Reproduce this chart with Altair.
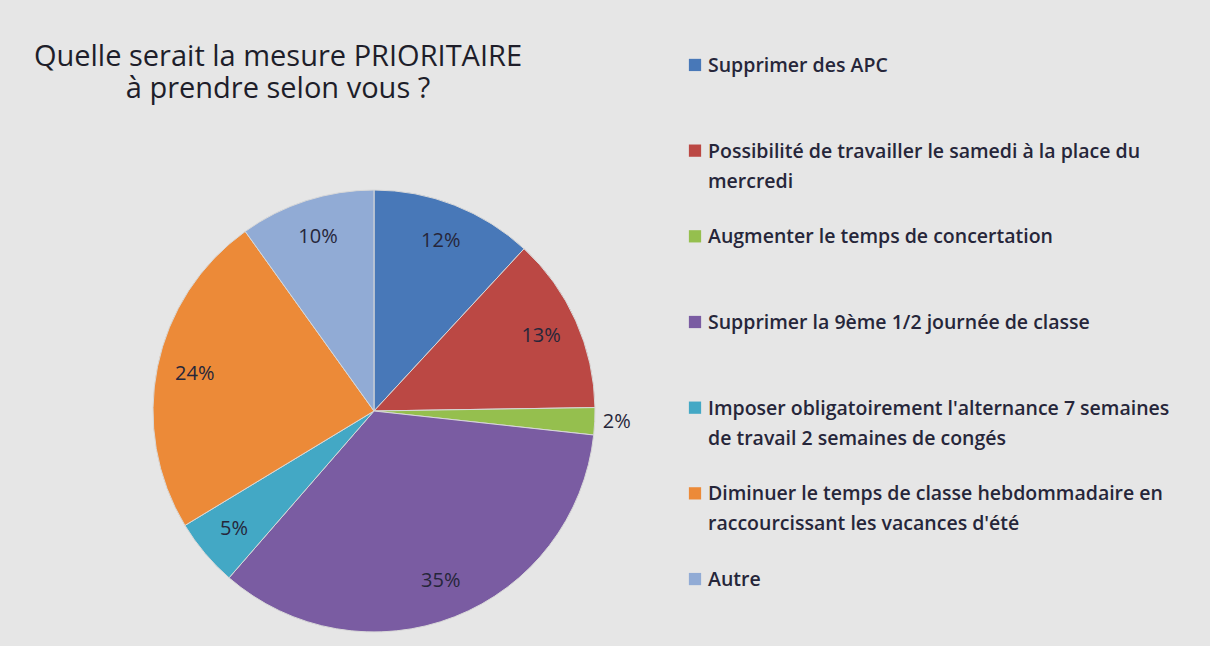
import altair as alt
import pandas as pd

# ---- data ----
categories = [
    "Supprimer des APC",
    "Possibilité de travailler le samedi à la place du mercredi",
    "Augmenter le temps de concertation",
    "Supprimer la 9ème 1/2 journée de classe",
    "Imposer obligatoirement l'alternance 7 semaines de travail 2 semaines de congés",
    "Diminuer le temps de classe hebdommadaire en raccourcissant les vacances d'été",
    "Autre",
]
legend_lines = [
    ["Supprimer des APC"],
    ["Possibilité de travailler le samedi à la place du", "mercredi"],
    ["Augmenter le temps de concertation"],
    ["Supprimer la 9ème 1/2 journée de classe"],
    ["Imposer obligatoirement l'alternance 7 semaines", "de travail 2 semaines de congés"],
    ["Diminuer le temps de classe hebdommadaire en", "raccourcissant les vacances d'été"],
    ["Autre"],
]
percentages = [12, 13, 2, 35, 5, 24, 10]
colors = ["#4878b8", "#bb4844", "#95bf4e", "#7a5ca2", "#43a8c5", "#ec8a38", "#91abd5"]
title_lines = ["Quelle serait la mesure PRIORITAIRE", "à prendre selon vous ?"]

df = pd.DataFrame({
    "mesure": categories,
    "pct": percentages,
    "ordre": list(range(len(categories))),
    "etiquette": [f"{p}%" for p in percentages],
    "legende": ["\n".join(l) for l in legend_lines],
})
title_df = pd.DataFrame({"titre": ["\n".join(title_lines)]})

FONT = "Open Sans"
TEXT_COL = "#26263a"

color_enc = alt.Color("mesure:N", scale=alt.Scale(domain=categories, range=colors), legend=None)

# ---- title block (real text) ----
header = alt.Chart(title_df).mark_text(
    align="center", baseline="alphabetic", lineBreak="\n", lineHeight=32,
    font=FONT, fontSize=29, color="#1e1e2a",
).encode(text="titre:N", x=alt.value(210), y=alt.value(24)).properties(width=612, height=127)

# ---- pie ----
base = alt.Chart(df).encode(
    theta=alt.Theta("pct:Q", stack=True),
    order=alt.Order("ordre:Q"),
)
arcs = base.mark_arc(outerRadius=221, stroke="#d8d8d8", strokeWidth=1).encode(color=color_enc)
inner = base.transform_calculate(
    txt="datum.pct >= 3 ? datum.etiquette : ''"
).mark_text(radius=183, font=FONT, fontSize=20, color=TEXT_COL).encode(text="txt:N")
outer = base.transform_calculate(
    txt="datum.pct < 3 ? datum.etiquette : ''"
).mark_text(radius=243, font=FONT, fontSize=20, color=TEXT_COL).encode(text="txt:N")
pie = alt.layer(arcs, inner, outer).properties(width=612, height=460)

left = alt.vconcat(header, pie, spacing=0)

# ---- legend ----
leg_base = alt.Chart(df).encode(
    y=alt.Y("mesure:N", sort=categories, axis=None,
            scale=alt.Scale(type="point", padding=0.268)),
)
swatches = leg_base.mark_square(size=150, opacity=1).encode(x=alt.value(15), color=color_enc)
leg_text = leg_base.mark_text(
    align="left", baseline="alphabetic", dy=7, lineBreak="\n", lineHeight=30,
    font=FONT, fontSize=19.5, fontWeight=600, color=TEXT_COL,
).encode(x=alt.value(28), text="legende:N")
legend_panel = alt.layer(swatches, leg_text).properties(width=530, height=560)

chart = alt.hconcat(left, legend_panel, spacing=0).properties(
    background="#e6e6e6",
    padding={"left": 33, "top": 42, "right": 0, "bottom": 0},
).configure_view(stroke=None)

chart.save("out.html", embed_options={"renderer": "svg", "actions": False})
